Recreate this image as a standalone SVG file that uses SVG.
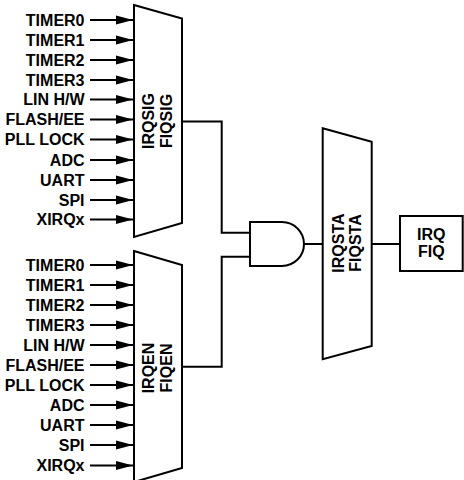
<svg xmlns="http://www.w3.org/2000/svg" width="464" height="480" viewBox="0 0 464 480">
<style>
.shape{fill:#fff;stroke:#000;stroke-width:2;stroke-linejoin:miter}
.wire{fill:none;stroke:#000;stroke-width:2}
.lbl{font-family:"Liberation Sans",Arial,sans-serif;font-weight:bold;font-size:16px;fill:#000}
.r{text-anchor:end}
.m{text-anchor:middle}
</style>
<defs>
<marker id="ah" markerUnits="userSpaceOnUse" markerWidth="18" markerHeight="10" refX="17" refY="5" orient="auto">
<path d="M0,0.5 L17,5 L0,9.5 Z" fill="#000"/>
</marker>
</defs>
<g id="mux-irqsig">
<path class="shape" d="M134,5 L182,18.5 L182,223 L134,237 Z"/>
<text class="lbl m" transform="translate(153.5,121) rotate(-90)">IRQSIG</text>
<text class="lbl m" transform="translate(172,121) rotate(-90)">FIQSIG</text>
</g>
<g id="mux-irqen">
<path class="shape" d="M134,251 L182,265 L182,468 L134,482 Z"/>
<text class="lbl m" transform="translate(153.5,368) rotate(-90)">IRQEN</text>
<text class="lbl m" transform="translate(172,368) rotate(-90)">FIQEN</text>
</g>
<g id="and-gate">
<path class="shape" d="M250,222 L282,222 A22,22 0 0 1 282,266 L250,266 Z"/>
</g>
<g id="mux-irqsta">
<path class="shape" d="M322.7,128.3 L371.7,141.7 L371.7,346 L322.7,359.3 Z"/>
<text class="lbl m" transform="translate(343.5,243) rotate(-90)">IRQSTA</text>
<text class="lbl m" transform="translate(360.5,243) rotate(-90)">FIQSTA</text>
</g>
<g id="irq-fiq">
<rect class="shape" x="400" y="216" width="62.7" height="55"/>
<text class="lbl m" x="431.3" y="240">IRQ</text>
<text class="lbl m" x="431.3" y="257">FIQ</text>
</g>
<g id="inputs-top" class="lbl r">
<text x="84.5" y="25.5">TIMER0</text>
<text x="84.5" y="45.5">TIMER1</text>
<text x="84.5" y="65.5">TIMER2</text>
<text x="84.5" y="85.5">TIMER3</text>
<text x="84.5" y="105">LIN H/W</text>
<text x="84.5" y="125">FLASH/EE</text>
<text x="84.5" y="145">PLL LOCK</text>
<text x="84.5" y="165.5">ADC</text>
<text x="84.5" y="185.5">UART</text>
<text x="84.5" y="205.5">SPI</text>
<text x="84.5" y="225">XIRQx</text>
</g>
<g id="inputs-bottom" class="lbl r">
<text x="84.5" y="270.5">TIMER0</text>
<text x="84.5" y="290.5">TIMER1</text>
<text x="84.5" y="310.5">TIMER2</text>
<text x="84.5" y="330.5">TIMER3</text>
<text x="84.5" y="350.5">LIN H/W</text>
<text x="84.5" y="370.5">FLASH/EE</text>
<text x="84.5" y="390.5">PLL LOCK</text>
<text x="84.5" y="410.5">ADC</text>
<text x="84.5" y="430.5">UART</text>
<text x="84.5" y="450.5">SPI</text>
<text x="84.5" y="471">XIRQx</text>
</g>
<g id="connectors" class="wire">
<path marker-end="url(#ah)" d="M90,20 H133"/>
<path marker-end="url(#ah)" d="M90,40 H133"/>
<path marker-end="url(#ah)" d="M90,60 H133"/>
<path marker-end="url(#ah)" d="M90,80 H133"/>
<path marker-end="url(#ah)" d="M90,99.5 H133"/>
<path marker-end="url(#ah)" d="M90,119.5 H133"/>
<path marker-end="url(#ah)" d="M90,139.5 H133"/>
<path marker-end="url(#ah)" d="M90,160 H133"/>
<path marker-end="url(#ah)" d="M90,180 H133"/>
<path marker-end="url(#ah)" d="M90,200 H133"/>
<path marker-end="url(#ah)" d="M90,219.5 H133"/>
<path marker-end="url(#ah)" d="M90,265 H133"/>
<path marker-end="url(#ah)" d="M90,285 H133"/>
<path marker-end="url(#ah)" d="M90,305 H133"/>
<path marker-end="url(#ah)" d="M90,325 H133"/>
<path marker-end="url(#ah)" d="M90,345 H133"/>
<path marker-end="url(#ah)" d="M90,365 H133"/>
<path marker-end="url(#ah)" d="M90,385 H133"/>
<path marker-end="url(#ah)" d="M90,405 H133"/>
<path marker-end="url(#ah)" d="M90,425 H133"/>
<path marker-end="url(#ah)" d="M90,445 H133"/>
<path marker-end="url(#ah)" d="M90,465.5 H133"/>
<path d="M182,121.5 H221.7 V232.7 H250"/>
<path d="M182,366.7 H221.7 V256.7 H250"/>
<path d="M304,244 H322.7"/>
<path d="M371.7,244 H400"/>
</g>
</svg>
